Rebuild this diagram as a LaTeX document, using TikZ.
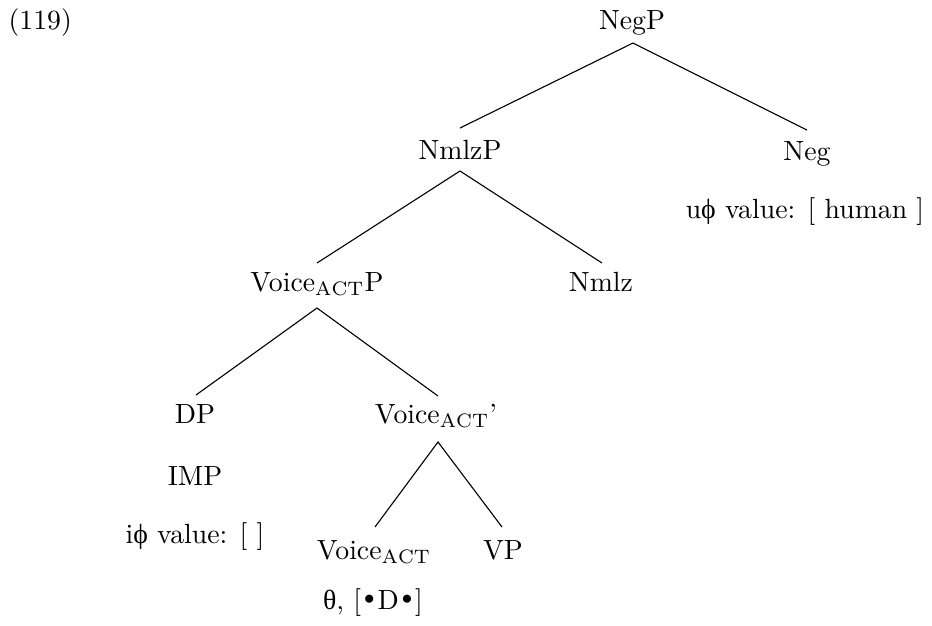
\documentclass[tikz,border=0pt]{standalone}
\usepackage{fontspec}
\usetikzlibrary{calc}
\newfontfamily\grk{Liberation Serif}
\newfontfamily\blt{DejaVu Serif}
\begin{document}
\begin{tikzpicture}[x=0.36pt,y=-0.36pt]
\tikzset{
  lbl/.style={anchor=base, inner sep=0pt, font=\fontsize{10}{12}\selectfont},
  branch/.style={draw, line width=0.4pt}
}
\useasboundingbox (0,0) rectangle (932,626);
% labels
\node[lbl, anchor=base west] (num) at (8,29) {(119)};
\node[lbl] (negp) at (632,29) {NegP};
\node[lbl] (nmlzp) at (460,159) {NmlzP};
\node[lbl] (neg) at (807,160) {Neg};
\node[lbl] (negf) at (805,218) {u{\grk ϕ} value: [ human ]};
\node[lbl] (vap) at (317,291) {Voice$_{\mathrm{ACT}}$P};
\node[lbl] (nmlz) at (601,291) {Nmlz};
\node[lbl] (dp) at (195,423) {DP};
\node[lbl] (vbar) at (436,423) {Voice$_{\mathrm{ACT}}$'};
\node[lbl] (imp) at (195,485) {IMP};
\node[lbl] (dpf) at (195,543) {i{\grk ϕ} value: [ ]};
\node[lbl] (vh) at (374,559) {Voice$_{\mathrm{ACT}}$};
\node[lbl] (vp) at (503,559) {VP};
\node[lbl] (vhf) at (373,609) {{\grk θ}, [{\blt •}D{\blt •}]};
% branches
\draw[branch] ($(nmlzp.base)+(0,-31)$) -- ($(negp.base)+(1,14)$) -- ($(neg.base)+(0,-30)$);
\draw[branch] ($(vap.base)+(0,-28)$) -- ($(nmlzp.base)+(0,12)$) -- ($(nmlz.base)+(1,-28)$);
\draw[branch] ($(dp.base)+(1,-28)$) -- ($(vap.base)+(0,17)$) -- ($(vbar.base)+(2,-27)$);
\draw[branch] ($(vh.base)+(1,-32)$) -- ($(vbar.base)+(2,19)$) -- ($(vp.base)+(-1,-32)$);
\end{tikzpicture}
\end{document}
